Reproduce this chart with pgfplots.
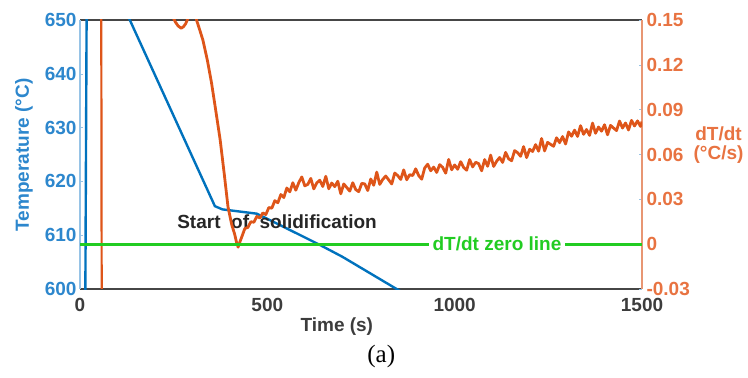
\documentclass[border=0pt]{standalone}
\usepackage{fontspec}
\setmainfont{Liberation Sans}
\newfontfamily\serifa{Liberation Serif}
\usepackage{pgfplots}
\pgfplotsset{compat=1.18}
\definecolor{tblue}{RGB}{0,114,189}
\definecolor{tlblue}{RGB}{45,135,205}
\definecolor{axblue}{RGB}{150,195,230}
\definecolor{torange}{RGB}{222,85,25}
\definecolor{tlorange}{RGB}{232,115,65}
\definecolor{axorange}{RGB}{232,150,115}
\definecolor{tgreen}{RGB}{34,204,34}
\definecolor{tgray}{RGB}{60,60,60}
\definecolor{axgray}{RGB}{70,70,70}
\newcommand{\bigf}{\fontsize{19}{21}\selectfont\bfseries}
\begin{document}
\begin{tikzpicture}
\begin{axis}[
  scale only axis, width=562pt, height=269pt,
  xmin=0, xmax=1500, ymin=600, ymax=650,
  axis y line*=left,
  xtick={0,500,1000,1500}, ytick={600,610,620,630,640,650},
  xtick pos=bottom,
  /pgf/number format/assume math mode=true,
  /pgf/number format/1000 sep={},
  tick label style={font=\bigf},
  yticklabel style={text=tlblue},
  xticklabel style={text=tgray, yshift=-6pt},
  x axis line style={draw=axgray, line width=1.5pt},
  y axis line style={draw=axblue, line width=1.5pt},
  major tick length=3pt,
  tick style={draw=axblue, line width=0.5pt},
  xtick style={draw=none},
  clip mode=individual,
]
\coordinate (bl) at (rel axis cs:0,0);
\coordinate (tr) at (rel axis cs:1,1);
\addplot[tblue, line width=2.4pt] coordinates {(14,595)(18,656)};
\addplot[tblue, line width=2.4pt] coordinates {(120,652)(133,650)(360,615.4)(380,614.8)(472,614.0)(542,611.6)(640,608.2)(700,606.0)(845,600.0)(860,599.4)};
\node[font=\bigf, text=black!85] at (axis cs:526,612.45) {Start\ \ of\ \ solidification};
\node[font=\bigf, text=tgray] at ([yshift=-38pt]rel axis cs:0.457,0) {Time (s)};
\node[font=\fontsize{25}{27}\selectfont\serifa] at ([yshift=-67pt]rel axis cs:0.536,0) {(a)};
\node[font=\bigf, text=tlblue, rotate=90] at ([xshift=-56pt]rel axis cs:0,0.498) {Temperature (°C)};
\end{axis}
\begin{axis}[
  scale only axis, width=562pt, height=269pt,
  xmin=0, xmax=1500, ymin=-0.03, ymax=0.15,
  axis y line*=right, axis x line=none,
  ytick={-0.03,0,0.03,0.06,0.09,0.12,0.15},
  yticklabels={-0.03,0,0.03,0.06,0.09,0.12,0.15},
  scaled y ticks=false,
  /pgf/number format/assume math mode=true,
  tick label style={font=\bigf},
  yticklabel style={text=tlorange, xshift=1pt},
  y axis line style={draw=axorange, line width=1.5pt},
  major tick length=3pt,
  tick style={draw=axblue, line width=0.5pt},
  clip mode=individual,
]
\addplot[torange, line width=2.2pt] coordinates {(56.5,0.2)(58,-0.05)};
\addplot[torange, line width=2.8pt, line join=round] coordinates {
(240,0.17)(248,0.152)(255,0.1485)(262,0.146)(270,0.1445)(276,0.1455)(282,0.1475)(288,0.151)(295,0.17)(305,0.17)
(311,0.150)(320,0.143)(328,0.1366)(340,0.123)(351,0.108)(362,0.090)(374,0.070)(385,0.047)(395,0.025)(405,0.013)(413,0.0065)(418,0.001)(422,-0.002)(426,0.001)(432,0.005)
(440,0.0105)(448,0.0112)(456,0.0150)(464,0.0147)(472,0.0186)(480,0.0175)(488,0.0209)(496,0.0198)(504,0.0245)(512,0.0241)(520,0.0291)(528,0.0277)(536,0.0332)(544,0.0312)(552,0.0376)(560,0.0350)
(568,0.0411)(576,0.0361)(584,0.0412)(592,0.0450)(600,0.0390)(608,0.0400)(616,0.0440)(624,0.0370)(632,0.0410)(640,0.0428)(648,0.0386)(656,0.0454)(664,0.0371)(672,0.0409)(680,0.0385)(688,0.0421)(696,0.0337)(704,0.0403)(712,0.0379)(720,0.0355)(728,0.0411)(736,0.0365)(744,0.0351)(752,0.0407)(760,0.0403)(768,0.0359)(776,0.0436)(784,0.0394)(792,0.0482)(800,0.0400)
(808,0.0433)(816,0.0456)(824,0.0430)(832,0.0403)(840,0.0476)(848,0.0459)(856,0.0433)(864,0.0497)(872,0.0431)(880,0.0465)(888,0.0459)(896,0.0504)(904,0.0459)(912,0.0435)(920,0.0510)(928,0.0535)(936,0.0491)(944,0.0516)(952,0.0480)(960,0.0532)(968,0.0514)(976,0.0475)(984,0.0567)(992,0.0498)(1000,0.0530)
(1008,0.0501)(1016,0.0552)(1024,0.0513)(1032,0.0495)(1040,0.0566)(1048,0.0517)(1056,0.0548)(1064,0.0539)(1072,0.0491)(1080,0.0566)(1088,0.0521)(1096,0.0596)(1104,0.0520)(1112,0.0555)(1120,0.0580)(1128,0.0547)(1136,0.0614)(1144,0.0571)(1152,0.0558)(1160,0.0626)(1168,0.0612)(1176,0.0588)(1184,0.0653)(1192,0.0579)(1200,0.0635)
(1208,0.0620)(1216,0.0666)(1224,0.0622)(1232,0.0707)(1240,0.0624)(1248,0.0681)(1256,0.0668)(1264,0.0655)(1272,0.0712)(1280,0.0679)(1288,0.0720)(1296,0.0670)(1304,0.0751)(1312,0.0722)(1320,0.0763)(1328,0.0721)(1336,0.0793)(1344,0.0735)(1352,0.0767)(1360,0.0728)(1368,0.0810)(1376,0.0742)(1384,0.0784)(1392,0.0756)(1400,0.0799)
(1408,0.0732)(1416,0.0795)(1424,0.0777)(1432,0.0760)(1440,0.0824)(1448,0.0777)(1456,0.0811)(1464,0.0764)(1472,0.0828)(1480,0.0791)(1488,0.0825)(1496,0.0788)(1500,0.0820)
};
\addplot[tgreen, line width=3.3pt] coordinates {(0,0)(1500,0)};
\node[font=\bigf, text=tgreen, fill=white, inner xsep=4pt, inner ysep=1pt] at (axis cs:1113,0) {dT/dt zero line};
\node[font=\bigf, text=tlorange, align=center, anchor=east] at ([xshift=105pt]rel axis cs:1,0.535) {dT/dt\\[-2pt](°C/s)};
\end{axis}
\pgfresetboundingbox
\path[use as bounding box] ([shift={(-80pt,-88pt)}]bl) rectangle ([shift={(106pt,20pt)}]tr);
\end{tikzpicture}
\end{document}
